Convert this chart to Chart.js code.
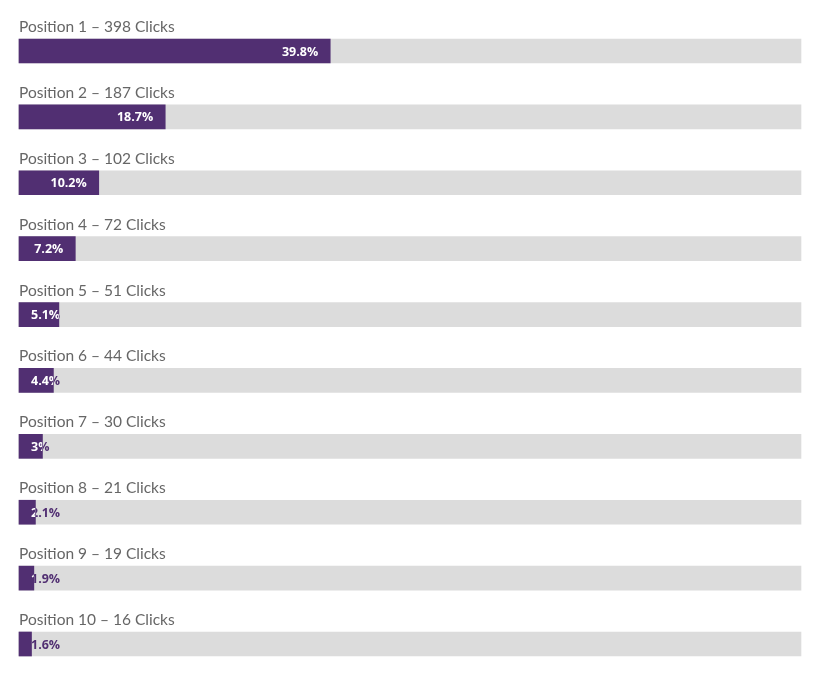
<!DOCTYPE html>
<html>
<head>
<meta charset="utf-8">
<script src="https://cdn.jsdelivr.net/npm/chart.js@4/dist/chart.umd.min.js"></script>
<style>
html,body{margin:0;padding:0;background:#fff;overflow:hidden;}
#wrap{position:relative;width:813px;height:673px;}
</style>
</head>
<body>
<div id="wrap"><canvas id="c"></canvas></div>
<script>
const positions = ['Position 1','Position 2','Position 3','Position 4','Position 5','Position 6','Position 7','Position 8','Position 9','Position 10'];
const clicks = [398,187,102,72,51,44,30,21,19,16];
const percents = [39.8,18.7,10.2,7.2,5.1,4.4,3,2.1,1.9,1.6];
const trackValues = [100,100,100,100,100,100,100,100,100,100];

const PURPLE = '#512f72';
const TRACK = '#dcdcdc';

const labelPlugin = {
  id: 'labels',
  afterDatasetsDraw(chart) {
    const ctx = chart.ctx;
    const meta = chart.getDatasetMeta(1);
    const area = chart.chartArea;
    meta.data.forEach((bar, i) => {
      const top = bar.y - bar.height / 2;
      ctx.save();
      ctx.font = '15.5px Lato, "Open Sans", sans-serif';
      ctx.fillStyle = '#666666';
      ctx.textBaseline = 'middle';
      ctx.textAlign = 'left';
      ctx.fillText(positions[i] + ' \u2013 ' + clicks[i] + ' Clicks', area.left, top - 12);
      ctx.restore();
      const txt = percents[i] + '%';
      ctx.save();
      ctx.font = 'bold 12.5px "Open Sans", sans-serif';
      const w = ctx.measureText(txt).width;
      const barEnd = bar.x;
      const tx = Math.max(area.left + 12, barEnd - 12 - w);
      ctx.textBaseline = 'middle';
      ctx.textAlign = 'left';
      ctx.save();
      ctx.beginPath();
      ctx.rect(bar.base, top, barEnd - bar.base, bar.height);
      ctx.clip();
      ctx.fillStyle = '#ffffff';
      ctx.fillText(txt, tx, bar.y + 1);
      ctx.restore();
      ctx.save();
      ctx.beginPath();
      ctx.rect(barEnd, top, area.right - barEnd, bar.height);
      ctx.clip();
      ctx.fillStyle = PURPLE;
      ctx.fillText(txt, tx, bar.y + 1);
      ctx.restore();
      ctx.restore();
    });
  }
};

new Chart(document.getElementById('c'), {
  type: 'bar',
  data: {
    labels: positions,
    datasets: [
      { data: trackValues, backgroundColor: TRACK, barThickness: 24, grouped: false, order: 2, clip: false },
      { data: percents, backgroundColor: PURPLE, barThickness: 24, grouped: false, order: 1, clip: false }
    ]
  },
  options: {
    indexAxis: 'y',
    responsive: true,
    maintainAspectRatio: false,
    animation: false,
    layout: { padding: { left: 19, right: 12, top: 51, bottom: 29 } },
    plugins: { legend: { display: false }, tooltip: { enabled: false } },
    scales: {
      x: { min: 0, max: 100, display: false },
      y: { display: false, offset: false }
    }
  },
  plugins: [labelPlugin]
});
</script>
</body>
</html>
